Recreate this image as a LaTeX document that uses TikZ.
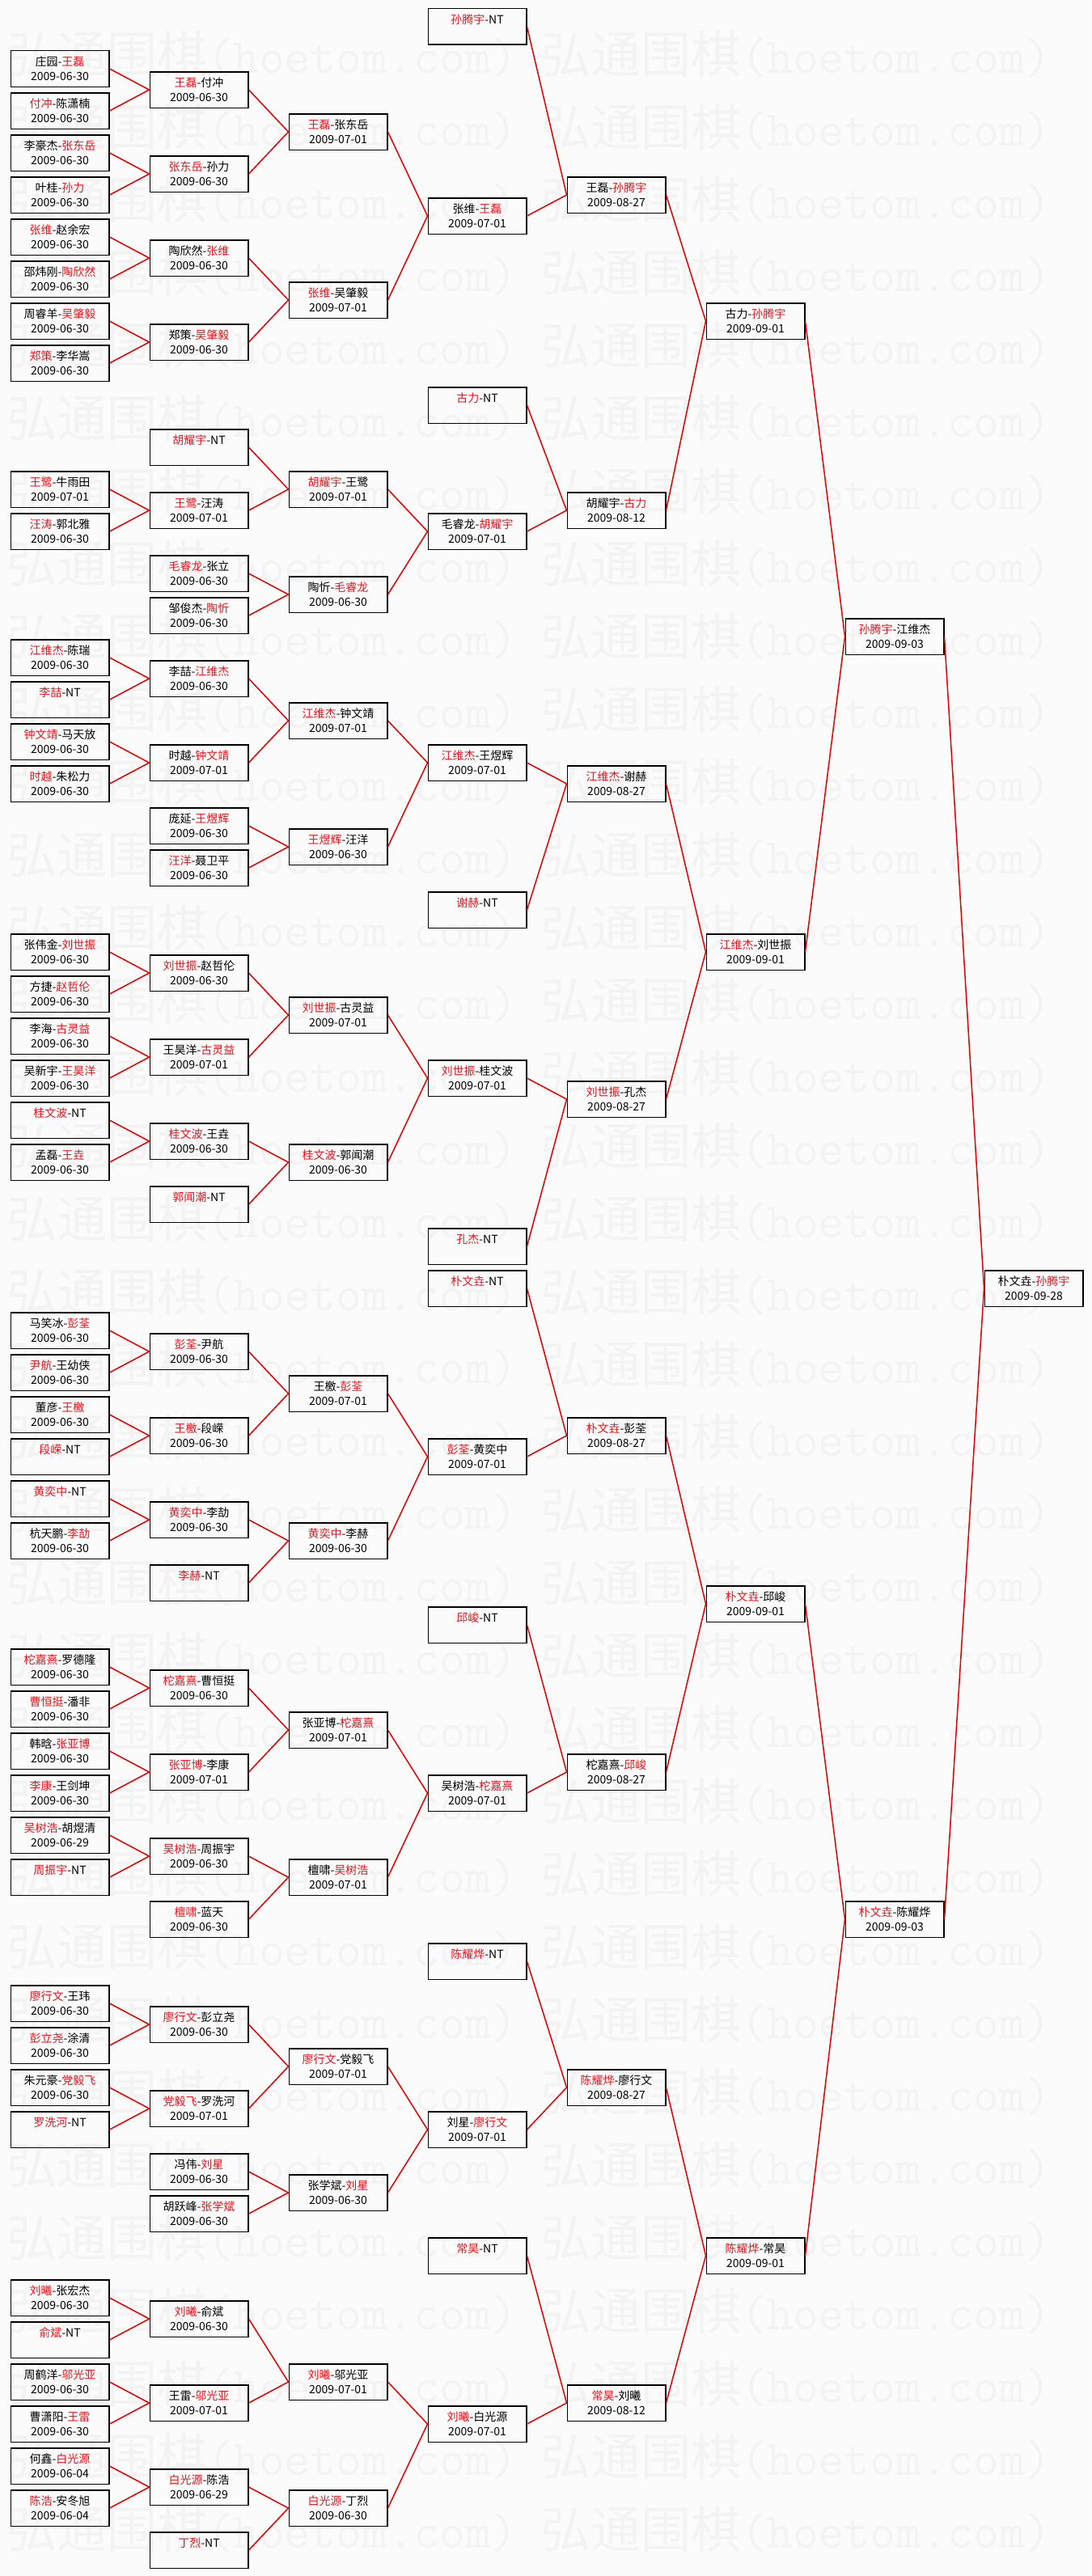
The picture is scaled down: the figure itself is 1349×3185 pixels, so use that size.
\documentclass[tikz,border=0pt]{standalone}
\usepackage{fontspec}
\newfontfamily\cjk{Noto Sans CJK SC}
\definecolor{winred}{RGB}{232,20,28}
\definecolor{linkred}{RGB}{228,0,0}
\definecolor{paper}{RGB}{251,251,251}
\definecolor{wm}{RGB}{243,243,243}
\newcommand{\win}[1]{\textcolor{winred}{#1}}
\newcommand{\nodate}{\phantom{2009-06-30}}
\begin{document}
\begin{tikzpicture}[x=1pt,y=-1pt]
\tikzset{match/.style = {draw, line width=1.5pt, minimum width=121.5pt, minimum height=44.5pt, inner sep=0pt, align=center, font=\cjk\fontsize{14}{18}\selectfont},
link/.style = {draw=linkred, line width=1.5pt, line join=round},
wmark/.style = {anchor=west, inner sep=0pt, text=wm, font=\fontsize{62}{62}\selectfont}}
\fill[paper] (0,0) rectangle (1349,3185);
\useasboundingbox (0,0) rectangle (1349,3185);
\foreach \j in {0,...,34}
  \foreach \i in {0,1}
    \node[wmark] at (8+660*\i, 67+90*\j) {{\cjk 弘通围棋}{\ttfamily(hoetom.com)}};
% first round
\node[match] (A1) at (74,85) {庄园-\win{王磊}\\2009-06-30};
\node[match] (A2) at (74,137) {\win{付冲}-陈潇楠\\2009-06-30};
\node[match] (A3) at (74,189) {李豪杰-\win{张东岳}\\2009-06-30};
\node[match] (A4) at (74,241) {叶桂-\win{孙力}\\2009-06-30};
\node[match] (A5) at (74,293) {\win{张维}-赵余宏\\2009-06-30};
\node[match] (A6) at (74,345) {邵炜刚-\win{陶欣然}\\2009-06-30};
\node[match] (A7) at (74,397) {周睿羊-\win{吴肇毅}\\2009-06-30};
\node[match] (A8) at (74,449) {\win{郑策}-李华嵩\\2009-06-30};
\node[match] (A9) at (74,605) {\win{王鹭}-牛雨田\\2009-07-01};
\node[match] (A10) at (74,657) {\win{汪涛}-郭北雅\\2009-06-30};
\node[match] (A11) at (74,813) {\win{江维杰}-陈瑞\\2009-06-30};
\node[match] (A12) at (74,865) {\win{李喆}-NT\\\nodate};
\node[match] (A13) at (74,917) {\win{钟文靖}-马天放\\2009-06-30};
\node[match] (A14) at (74,969) {\win{时越}-朱松力\\2009-06-30};
\node[match] (A15) at (74,1177) {张伟金-\win{刘世振}\\2009-06-30};
\node[match] (A16) at (74,1229) {方捷-\win{赵哲伦}\\2009-06-30};
\node[match] (A17) at (74,1281) {李海-\win{古灵益}\\2009-06-30};
\node[match] (A18) at (74,1333) {吴新宇-\win{王昊洋}\\2009-06-30};
\node[match] (A19) at (74,1385) {\win{桂文波}-NT\\\nodate};
\node[match] (A20) at (74,1437) {孟磊-\win{王垚}\\2009-06-30};
\node[match] (A21) at (74,1645) {马笑冰-\win{彭荃}\\2009-06-30};
\node[match] (A22) at (74,1697) {\win{尹航}-王幼侠\\2009-06-30};
\node[match] (A23) at (74,1749) {董彦-\win{王檄}\\2009-06-30};
\node[match] (A24) at (74,1801) {\win{段嵘}-NT\\\nodate};
\node[match] (A25) at (74,1853) {\win{黄奕中}-NT\\\nodate};
\node[match] (A26) at (74,1905) {杭天鹏-\win{李劼}\\2009-06-30};
\node[match] (A27) at (74,2061) {\win{柁嘉熹}-罗德隆\\2009-06-30};
\node[match] (A28) at (74,2113) {\win{曹恒挺}-潘非\\2009-06-30};
\node[match] (A29) at (74,2165) {韩晗-\win{张亚博}\\2009-06-30};
\node[match] (A30) at (74,2217) {\win{李康}-王剑坤\\2009-06-30};
\node[match] (A31) at (74,2269) {\win{吴树浩}-胡煜清\\2009-06-29};
\node[match] (A32) at (74,2321) {\win{周振宇}-NT\\\nodate};
\node[match] (A33) at (74,2477) {\win{廖行文}-王玮\\2009-06-30};
\node[match] (A34) at (74,2529) {\win{彭立尧}-涂清\\2009-06-30};
\node[match] (A35) at (74,2581) {朱元豪-\win{党毅飞}\\2009-06-30};
\node[match] (A36) at (74,2633) {\win{罗洗河}-NT\\\nodate};
\node[match] (A37) at (74,2841) {\win{刘曦}-张宏杰\\2009-06-30};
\node[match] (A38) at (74,2893) {\win{俞斌}-NT\\\nodate};
\node[match] (A39) at (74,2945) {周鹤洋-\win{邬光亚}\\2009-06-30};
\node[match] (A40) at (74,2997) {曹潇阳-\win{王雷}\\2009-06-30};
\node[match] (A41) at (74,3049) {何鑫-\win{白光源}\\2009-06-04};
\node[match] (A42) at (74,3101) {\win{陈浩}-安冬旭\\2009-06-04};
% second round
\node[match] (B1) at (246,111) {\win{王磊}-付冲\\2009-06-30};
\node[match] (B2) at (246,215) {\win{张东岳}-孙力\\2009-06-30};
\node[match] (B3) at (246,319) {陶欣然-\win{张维}\\2009-06-30};
\node[match] (B4) at (246,423) {郑策-\win{吴肇毅}\\2009-06-30};
\node[match] (B5) at (246,553) {\win{胡耀宇}-NT\\\nodate};
\node[match] (B6) at (246,631) {\win{王鹭}-汪涛\\2009-07-01};
\node[match] (B7) at (246,709) {\win{毛睿龙}-张立\\2009-06-30};
\node[match] (B8) at (246,761) {邹俊杰-\win{陶忻}\\2009-06-30};
\node[match] (B9) at (246,839) {李喆-\win{江维杰}\\2009-06-30};
\node[match] (B10) at (246,943) {时越-\win{钟文靖}\\2009-07-01};
\node[match] (B11) at (246,1021) {庞延-\win{王煜辉}\\2009-06-30};
\node[match] (B12) at (246,1073) {\win{汪洋}-聂卫平\\2009-06-30};
\node[match] (B13) at (246,1203) {\win{刘世振}-赵哲伦\\2009-06-30};
\node[match] (B14) at (246,1307) {王昊洋-\win{古灵益}\\2009-07-01};
\node[match] (B15) at (246,1411) {\win{桂文波}-王垚\\2009-06-30};
\node[match] (B16) at (246,1489) {\win{郭闻潮}-NT\\\nodate};
\node[match] (B17) at (246,1671) {\win{彭荃}-尹航\\2009-06-30};
\node[match] (B18) at (246,1775) {\win{王檄}-段嵘\\2009-06-30};
\node[match] (B19) at (246,1879) {\win{黄奕中}-李劼\\2009-06-30};
\node[match] (B20) at (246,1957) {\win{李赫}-NT\\\nodate};
\node[match] (B21) at (246,2087) {\win{柁嘉熹}-曹恒挺\\2009-06-30};
\node[match] (B22) at (246,2191) {\win{张亚博}-李康\\2009-07-01};
\node[match] (B23) at (246,2295) {\win{吴树浩}-周振宇\\2009-06-30};
\node[match] (B24) at (246,2373) {\win{檀啸}-蓝天\\2009-06-30};
\node[match] (B25) at (246,2503) {\win{廖行文}-彭立尧\\2009-06-30};
\node[match] (B26) at (246,2607) {\win{党毅飞}-罗洗河\\2009-07-01};
\node[match] (B27) at (246,2685) {冯伟-\win{刘星}\\2009-06-30};
\node[match] (B28) at (246,2737) {胡跃峰-\win{张学斌}\\2009-06-30};
\node[match] (B29) at (246,2867) {\win{刘曦}-俞斌\\2009-06-30};
\node[match] (B30) at (246,2971) {王雷-\win{邬光亚}\\2009-07-01};
\node[match] (B31) at (246,3075) {\win{白光源}-陈浩\\2009-06-29};
\node[match] (B32) at (246,3153) {\win{丁烈}-NT\\\nodate};
% third round
\node[match] (C1) at (418,163) {\win{王磊}-张东岳\\2009-07-01};
\node[match] (C2) at (418,371) {\win{张维}-吴肇毅\\2009-07-01};
\node[match] (C3) at (418,605) {\win{胡耀宇}-王鹭\\2009-07-01};
\node[match] (C4) at (418,735) {陶忻-\win{毛睿龙}\\2009-06-30};
\node[match] (C5) at (418,891) {\win{江维杰}-钟文靖\\2009-07-01};
\node[match] (C6) at (418,1047) {\win{王煜辉}-汪洋\\2009-06-30};
\node[match] (C7) at (418,1255) {\win{刘世振}-古灵益\\2009-07-01};
\node[match] (C8) at (418,1437) {\win{桂文波}-郭闻潮\\2009-06-30};
\node[match] (C9) at (418,1723) {王檄-\win{彭荃}\\2009-07-01};
\node[match] (C10) at (418,1905) {\win{黄奕中}-李赫\\2009-06-30};
\node[match] (C11) at (418,2139) {张亚博-\win{柁嘉熹}\\2009-07-01};
\node[match] (C12) at (418,2321) {檀啸-\win{吴树浩}\\2009-07-01};
\node[match] (C13) at (418,2555) {\win{廖行文}-党毅飞\\2009-07-01};
\node[match] (C14) at (418,2711) {张学斌-\win{刘星}\\2009-06-30};
\node[match] (C15) at (418,2945) {\win{刘曦}-邬光亚\\2009-07-01};
\node[match] (C16) at (418,3101) {\win{白光源}-丁烈\\2009-06-30};
% fourth round
\node[match] (D1) at (590,33) {\win{孙腾宇}-NT\\\nodate};
\node[match] (D2) at (590,267) {张维-\win{王磊}\\2009-07-01};
\node[match] (D3) at (590,501) {\win{古力}-NT\\\nodate};
\node[match] (D4) at (590,657) {毛睿龙-\win{胡耀宇}\\2009-07-01};
\node[match] (D5) at (590,943) {\win{江维杰}-王煜辉\\2009-07-01};
\node[match] (D6) at (590,1125) {\win{谢赫}-NT\\\nodate};
\node[match] (D7) at (590,1333) {\win{刘世振}-桂文波\\2009-07-01};
\node[match] (D8) at (590,1541) {\win{孔杰}-NT\\\nodate};
\node[match] (D9) at (590,1593) {\win{朴文垚}-NT\\\nodate};
\node[match] (D10) at (590,1801) {\win{彭荃}-黄奕中\\2009-07-01};
\node[match] (D11) at (590,2009) {\win{邱峻}-NT\\\nodate};
\node[match] (D12) at (590,2217) {吴树浩-\win{柁嘉熹}\\2009-07-01};
\node[match] (D13) at (590,2425) {\win{陈耀烨}-NT\\\nodate};
\node[match] (D14) at (590,2633) {刘星-\win{廖行文}\\2009-07-01};
\node[match] (D15) at (590,2789) {\win{常昊}-NT\\\nodate};
\node[match] (D16) at (590,2997) {\win{刘曦}-白光源\\2009-07-01};
% later rounds
\node[match] (E1) at (762,241) {王磊-\win{孙腾宇}\\2009-08-27};
\node[match] (E2) at (762,631) {胡耀宇-\win{古力}\\2009-08-12};
\node[match] (E3) at (762,969) {\win{江维杰}-谢赫\\2009-08-27};
\node[match] (E4) at (762,1359) {\win{刘世振}-孔杰\\2009-08-27};
\node[match] (E5) at (762,1775) {\win{朴文垚}-彭荃\\2009-08-27};
\node[match] (E6) at (762,2191) {柁嘉熹-\win{邱峻}\\2009-08-27};
\node[match] (E7) at (762,2581) {\win{陈耀烨}-廖行文\\2009-08-27};
\node[match] (E8) at (762,2971) {\win{常昊}-刘曦\\2009-08-12};
\node[match] (F1) at (934,397) {古力-\win{孙腾宇}\\2009-09-01};
\node[match] (F2) at (934,1177) {\win{江维杰}-刘世振\\2009-09-01};
\node[match] (F3) at (934,1983) {\win{朴文垚}-邱峻\\2009-09-01};
\node[match] (F4) at (934,2789) {\win{陈耀烨}-常昊\\2009-09-01};
\node[match] (G1) at (1106,787) {\win{孙腾宇}-江维杰\\2009-09-03};
\node[match] (G2) at (1106,2373) {\win{朴文垚}-陈耀烨\\2009-09-03};
\node[match] (H) at (1278,1593) {朴文垚-\win{孙腾宇}\\2009-09-28};
% links
\draw[link] (A1.east) -- (B1.west) -- (A2.east);
\draw[link] (A3.east) -- (B2.west) -- (A4.east);
\draw[link] (A5.east) -- (B3.west) -- (A6.east);
\draw[link] (A7.east) -- (B4.west) -- (A8.east);
\draw[link] (A9.east) -- (B6.west) -- (A10.east);
\draw[link] (A11.east) -- (B9.west) -- (A12.east);
\draw[link] (A13.east) -- (B10.west) -- (A14.east);
\draw[link] (A15.east) -- (B13.west) -- (A16.east);
\draw[link] (A17.east) -- (B14.west) -- (A18.east);
\draw[link] (A19.east) -- (B15.west) -- (A20.east);
\draw[link] (A21.east) -- (B17.west) -- (A22.east);
\draw[link] (A23.east) -- (B18.west) -- (A24.east);
\draw[link] (A25.east) -- (B19.west) -- (A26.east);
\draw[link] (A27.east) -- (B21.west) -- (A28.east);
\draw[link] (A29.east) -- (B22.west) -- (A30.east);
\draw[link] (A31.east) -- (B23.west) -- (A32.east);
\draw[link] (A33.east) -- (B25.west) -- (A34.east);
\draw[link] (A35.east) -- (B26.west) -- (A36.east);
\draw[link] (A37.east) -- (B29.west) -- (A38.east);
\draw[link] (A39.east) -- (B30.west) -- (A40.east);
\draw[link] (A41.east) -- (B31.west) -- (A42.east);
\draw[link] (B1.east) -- (C1.west) -- (B2.east);
\draw[link] (B3.east) -- (C2.west) -- (B4.east);
\draw[link] (B5.east) -- (C3.west) -- (B6.east);
\draw[link] (B7.east) -- (C4.west) -- (B8.east);
\draw[link] (B9.east) -- (C5.west) -- (B10.east);
\draw[link] (B11.east) -- (C6.west) -- (B12.east);
\draw[link] (B13.east) -- (C7.west) -- (B14.east);
\draw[link] (B15.east) -- (C8.west) -- (B16.east);
\draw[link] (B17.east) -- (C9.west) -- (B18.east);
\draw[link] (B19.east) -- (C10.west) -- (B20.east);
\draw[link] (B21.east) -- (C11.west) -- (B22.east);
\draw[link] (B23.east) -- (C12.west) -- (B24.east);
\draw[link] (B25.east) -- (C13.west) -- (B26.east);
\draw[link] (B27.east) -- (C14.west) -- (B28.east);
\draw[link] (B29.east) -- (C15.west) -- (B30.east);
\draw[link] (B31.east) -- (C16.west) -- (B32.east);
\draw[link] (C1.east) -- (D2.west) -- (C2.east);
\draw[link] (C3.east) -- (D4.west) -- (C4.east);
\draw[link] (C5.east) -- (D5.west) -- (C6.east);
\draw[link] (C7.east) -- (D7.west) -- (C8.east);
\draw[link] (C9.east) -- (D10.west) -- (C10.east);
\draw[link] (C11.east) -- (D12.west) -- (C12.east);
\draw[link] (C13.east) -- (D14.west) -- (C14.east);
\draw[link] (C15.east) -- (D16.west) -- (C16.east);
\draw[link] (D1.east) -- (E1.west) -- (D2.east);
\draw[link] (D3.east) -- (E2.west) -- (D4.east);
\draw[link] (D5.east) -- (E3.west) -- (D6.east);
\draw[link] (D7.east) -- (E4.west) -- (D8.east);
\draw[link] (D9.east) -- (E5.west) -- (D10.east);
\draw[link] (D11.east) -- (E6.west) -- (D12.east);
\draw[link] (D13.east) -- (E7.west) -- (D14.east);
\draw[link] (D15.east) -- (E8.west) -- (D16.east);
\draw[link] (E1.east) -- (F1.west) -- (E2.east);
\draw[link] (E3.east) -- (F2.west) -- (E4.east);
\draw[link] (E5.east) -- (F3.west) -- (E6.east);
\draw[link] (E7.east) -- (F4.west) -- (E8.east);
\draw[link] (F1.east) -- (G1.west) -- (F2.east);
\draw[link] (F3.east) -- (G2.west) -- (F4.east);
\draw[link] (G1.east) -- (H.west) -- (G2.east);
\end{tikzpicture}
\end{document}
